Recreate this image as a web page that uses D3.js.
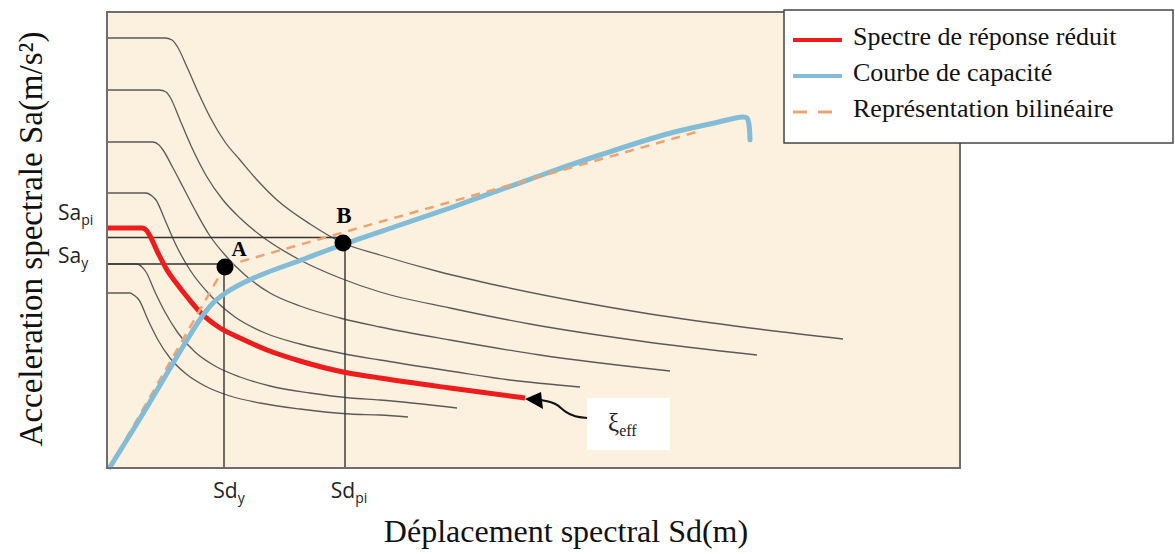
<!DOCTYPE html>
<html>
<head>
<meta charset="utf-8">
<script src="https://cdn.jsdelivr.net/npm/d3@7/dist/d3.min.js"></script>
<style>
  body { margin: 0; background: #fff; }
</style>
</head>
<body>
<svg id="chart" width="1175" height="554"></svg>
<script>
// points, [Sd, Sa] (arbitrary units, the figure is a schematic)
const demand1 = [[0,43.0],[5.8,43.0],[6.5,42.8],[7.0,42.2],[8.0,40.1],[9.1,37.6],[10.3,35.1],[11.8,32.6],[13.3,30.8],[15.1,28.7],[17.0,26.8],[20.3,24.4],[23.6,22.5],[27.3,21.3],[33.3,19.6],[39.3,18.2],[47.3,16.6],[54.3,15.4],[64.3,14.0],[73.6,12.9]];
const demand2 = [[0,37.8],[5.2,37.8],[5.9,37.6],[6.3,37.1],[7.3,34.8],[8.6,31.8],[10.0,29.1],[11.6,26.8],[13.3,25.0],[15.3,23.3],[19.3,20.8],[23.3,19.0],[27.3,17.6],[34.3,16.0],[42.3,14.4],[53.3,12.7],[65.0,11.3]];
const demand3 = [[0,32.6],[4.6,32.6],[5.2,32.3],[5.6,31.8],[6.6,30.0],[7.6,28.1],[8.8,25.8],[10.3,23.2],[11.8,21.3],[13.8,19.3],[16.3,17.5],[19.3,16.2],[23.3,15.0],[27.3,14.1],[34.3,12.8],[43.3,11.3],[56.3,9.7]];
const demand4 = [[0,27.5],[3.9,27.5],[4.5,27.2],[4.9,26.8],[5.8,24.8],[6.8,22.5],[8.3,19.8],[10.3,17.3],[12.8,15.1],[15.8,13.5],[19.3,12.4],[23.3,11.5],[27.3,10.8],[34.3,9.7],[40.3,8.8],[47.3,8.1]];
const demand5 = [[0,20.4],[3.0,20.4],[3.5,20.1],[3.9,19.6],[4.8,17.6],[5.8,15.6],[7.1,13.5],[8.8,11.6],[10.8,10.2],[13.3,9.1],[16.3,8.2],[20.3,7.5],[24.3,7.0],[27.3,6.8],[35.0,6.0]];
const demand6 = [[0,17.5],[2.3,17.5],[2.8,17.2],[3.2,16.8],[4.1,14.8],[5.1,12.8],[6.3,11.0],[7.8,9.5],[9.8,8.2],[12.3,7.2],[15.3,6.5],[19.3,5.9],[24.3,5.4],[27.3,5.3],[30.1,5.1]];
const reducedSpectrum = [[0,24.0],[3.5,24.0],[4.0,23.7],[4.3,23.2],[5.1,21.5],[6.0,19.8],[7.0,18.4],[8.1,17.0],[9.3,15.6],[11.3,14.0],[13.3,13.0],[16.0,11.8],[19.3,10.7],[23.6,9.6],[27.3,9.0],[34.3,8.0],[41.8,7.0]];
const capacity = [[0.3,0.1],[2.6,3.8],[4.3,6.6],[8.0,12.8],[9.4,15.0],[10.6,16.5],[12.0,17.6],[13.8,18.6],[16.0,19.55],[19.3,20.75],[23.6,22.35],[29.3,24.3],[34.3,26.0],[39.3,27.8],[44.3,29.6],[49.3,31.3],[56.0,33.4],[60.3,34.4],[63.6,35.1],[64.0,35.0],[64.2,34.3],[64.3,32.8]];
const bilinear = [[0.3,0.1],[11.8,20.2],[59.3,33.7]];

const sdY = 11.7, sdPi = 23.8;
const saY = 20.4, saPi = 23.05;
const pointA = [11.8, 20.1], pointB = [23.6, 22.5];
const xiAnchor = [48.0, 7.0];

const legendItems = ["Spectre de réponse réduit", "Courbe de capacité", "Représentation bilinéaire"];
const legendColors = ["#ee1c1c", "#82bcd6", "#efa36e"];

const svg = d3.select("#chart");
const x = d3.scaleLinear().domain([0, 85.3]).range([107, 960]);
const y = d3.scaleLinear().domain([0, 45.6]).range([468, 12]);

const smooth = d3.line().x(d => x(d[0])).y(d => y(d[1])).curve(d3.curveMonotoneX);
const line = d3.line().x(d => x(d[0])).y(d => y(d[1])).curve(d3.curveCatmullRom.alpha(0.5));
const straight = d3.line().x(d => x(d[0])).y(d => y(d[1]));

// plot background
svg.append("rect")
  .attr("x", x(0)).attr("y", y(45.6))
  .attr("width", x(85.3) - x(0)).attr("height", y(0) - y(45.6))
  .attr("fill", "#fcf0df");

// family of demand spectra
const family = [demand1, demand2, demand3, demand4, demand5, demand6];
svg.append("g").selectAll("path").data(family).enter().append("path")
  .attr("d", smooth)
  .attr("fill", "none")
  .attr("stroke", "#5a5a5a")
  .attr("stroke-width", 1.3);

// reference lines to A and B
const refs = [
  [[0, saPi], [pointB[0], saPi]],
  [[0, saY], [pointA[0], saY]],
  [[sdY, 0], [sdY, pointA[1]]],
  [[sdPi, 0], [sdPi, pointB[1]]]
];
svg.append("g").selectAll("line").data(refs).enter().append("line")
  .attr("x1", d => x(d[0][0])).attr("y1", d => y(d[0][1]))
  .attr("x2", d => x(d[1][0])).attr("y2", d => y(d[1][1]))
  .attr("stroke", "#333")
  .attr("stroke-width", 1.4);

svg.append("path").datum(reducedSpectrum)
  .attr("d", smooth).attr("fill", "none")
  .attr("stroke", legendColors[0]).attr("stroke-width", 5);

// elastic branch of the bilinear goes under the capacity curve
svg.append("path").datum(bilinear.slice(0, 2))
  .attr("d", straight)
  .attr("fill", "none")
  .attr("stroke", legendColors[2]).attr("stroke-width", 2.5)
  .attr("stroke-dasharray", "9,7");

svg.append("path").datum(capacity)
  .attr("d", line).attr("fill", "none")
  .attr("stroke", legendColors[1]).attr("stroke-width", 5)
  .attr("stroke-linecap", "round");

// post-yield branch drawn on top
svg.append("path").datum(bilinear.slice(1))
  .attr("d", straight)
  .attr("fill", "none")
  .attr("stroke", legendColors[2]).attr("stroke-width", 2.5)
  .attr("stroke-dasharray", "9,7");

svg.append("g").selectAll("circle").data([pointA, pointB]).enter().append("circle")
  .attr("cx", d => x(d[0])).attr("cy", d => y(d[1]))
  .attr("r", 8.5).attr("fill", "#000");

svg.append("text").attr("x", x(pointA[0]) + 14).attr("y", y(pointA[1]) - 11)
  .attr("text-anchor", "middle")
  .attr("font-family", "Liberation Serif").attr("font-weight", "bold").attr("font-size", 21)
  .text("A");
svg.append("text").attr("x", x(pointB[0]) + 1).attr("y", y(pointB[1]) - 20)
  .attr("text-anchor", "middle")
  .attr("font-family", "Liberation Serif").attr("font-weight", "bold").attr("font-size", 23)
  .text("B");

// border
svg.append("rect")
  .attr("x", x(0)).attr("y", y(45.6))
  .attr("width", x(85.3) - x(0)).attr("height", y(0) - y(45.6))
  .attr("fill", "none").attr("stroke", "#6e6e6e").attr("stroke-width", 2);

// labels with subscripts
function subLabel(px, py, main, sub, anchor) {
  const t = svg.append("text").attr("x", px).attr("y", py)
    .attr("text-anchor", anchor)
    .attr("font-family", "Open Sans").attr("font-size", 21).attr("fill", "#222");
  t.append("tspan").text(main);
  t.append("tspan").attr("dy", 5).attr("font-size", 14).text(sub);
}
subLabel(58, y(saPi) - 18, "Sa", "pi", "start");
subLabel(58, y(saY) - 1, "Sa", "y", "start");
subLabel(x(sdY) + 5, y(0) + 30, "Sd", "y", "middle");
subLabel(x(sdPi) + 4, y(0) + 30, "Sd", "pi", "middle");

// axis titles
svg.append("text")
  .attr("x", 566).attr("y", 542)
  .attr("text-anchor", "middle")
  .attr("font-family", "Liberation Serif").attr("font-size", 32).attr("fill", "#111")
  .text("Déplacement spectral Sd(m)");
svg.append("text")
  .attr("transform", "translate(42,239) rotate(-90)")
  .attr("text-anchor", "middle")
  .attr("font-family", "Liberation Serif").attr("font-size", 33).attr("fill", "#111")
  .text("Acceleration spectrale Sa(m/s²)");

// ξeff annotation
const ax = x(xiAnchor[0]), ay = y(xiAnchor[1]);
svg.append("rect").attr("x", ax).attr("y", ay).attr("width", 83).attr("height", 52).attr("fill", "#fff");
const tip = reducedSpectrum[reducedSpectrum.length - 1];
const tx = x(tip[0]), ty = y(tip[1]);
svg.append("path")
  .attr("d", d3.line().curve(d3.curveBasis)([[ax, ay + 20], [ax - 12, ay + 19], [ax - 22, ay + 14], [ax - 29, ay + 7], [ax - 35, ay + 4], [tx + 15, ty + 2]]))
  .attr("fill", "none").attr("stroke", "#111").attr("stroke-width", 2);
svg.append("path")
  .attr("d", `M${tx},${ty + 1}L${tx + 16},${ty - 6}L${tx + 18},${ty + 11}Z`)
  .attr("fill", "#000");
const xi = svg.append("text").attr("x", ax + 21).attr("y", ay + 33)
  .attr("font-family", "Liberation Serif").attr("font-size", 25).attr("fill", "#222");
xi.append("tspan").text("ξ");
xi.append("tspan").attr("dy", 5).attr("font-size", 16).text("eff");

// legend
const lg = svg.append("g").attr("transform", "translate(784,10)");
lg.append("rect").attr("width", 389).attr("height", 133)
  .attr("fill", "#fff").attr("stroke", "#444").attr("stroke-width", 1.5);
const rows = lg.selectAll("g.row").data(legendItems).enter().append("g")
  .attr("class", "row")
  .attr("transform", (d, i) => `translate(0,${35 + i * 36})`);
rows.append("line")
  .attr("x1", 9).attr("x2", 58).attr("y1", -5).attr("y2", -5)
  .attr("stroke", (d, i) => legendColors[i])
  .attr("stroke-width", (d, i) => i == 2 ? 3 : 4)
  .attr("stroke-dasharray", (d, i) => i == 2 ? "14,11" : null);
rows.append("text")
  .attr("x", 69).attr("y", 0)
  .attr("font-family", "Liberation Serif").attr("font-size", 26).attr("fill", "#111")
  .text(d => d);
</script>
</body>
</html>
